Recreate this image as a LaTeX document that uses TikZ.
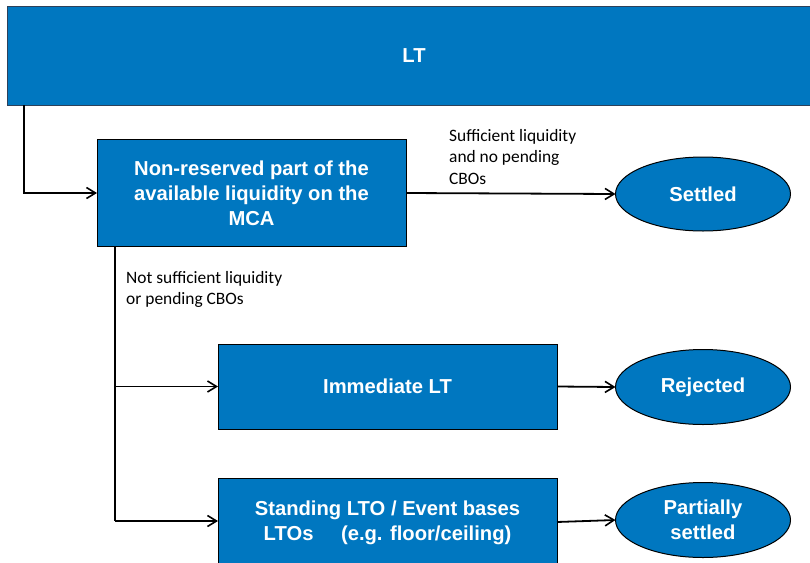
\documentclass[tikz,border=0pt]{standalone}
\usepackage{fontspec}
\setmainfont{Liberation Sans}
\newfontfamily\labelfont{Carlito}
\usetikzlibrary{arrows.meta,shapes.geometric}
\definecolor{boxblue}{RGB}{0,119,192}
\definecolor{edgeblue}{RGB}{45,65,90}
\begin{document}
\begin{tikzpicture}[x=1pt,y=-1pt,
  blockbox/.style={draw=black, line width=1pt, fill=boxblue, text=white,
    font=\fontsize{20.2}{25}\selectfont\bfseries, align=center, inner sep=0pt, outer sep=0pt},
  endstate/.style={ellipse, draw=black, line width=1pt, fill=boxblue, text=white,
    font=\fontsize{20.2}{25}\selectfont\bfseries, align=center, inner sep=0pt, outer sep=0pt,
    minimum width=175pt, minimum height=74pt},
  conn/.style={draw=black, line width=1.8pt, -{Straight Barb[length=9pt,width=11pt,line width=1.6pt]}},
  plainline/.style={draw=black, line width=1.8pt},
  edgelabel/.style={font=\labelfont\fontsize{17.4}{21.5}\selectfont, align=left, inner sep=0pt, anchor=north west}
]
\useasboundingbox (0,0) rectangle (810,562);
\clip (0,0) rectangle (810,562);

\node[blockbox, draw=edgeblue, minimum width=814pt, minimum height=99pt] (top) at (414,55.5) {LT};

\node[blockbox, minimum width=309pt, minimum height=107pt] (nonres) at (251.5,193)
  {Non-reserved part of the\\available liquidity on the\\MCA};

\node[endstate] (settled) at (703,194) {Settled};

\node[blockbox, minimum width=339pt, minimum height=85pt] (immediate) at (387.5,386.5) {Immediate LT};
\node[endstate, minimum height=75pt] (rejected) at (703,387) {Rejected};

\node[blockbox, minimum width=339pt, minimum height=90pt] (standing) at (387.5,523)
  {Standing LTO / Event bases\\LTOs\hspace{22pt} (e.g. floor/ceiling)};
\node[endstate, minimum height=75pt] (partial) at (703,520) {Partially\\settled};

\draw[conn] ([xshift=17pt]top.south west) |- (nonres.west);
\draw[conn] (nonres.east) -- (settled.west);

\coordinate (split) at ([xshift=18pt]nonres.south west);
\coordinate (branch1) at (split |- immediate.west);
\coordinate (branch2) at ([yshift=2pt]split |- standing.west);
\draw[plainline] (split) -- (branch2);
\draw[conn] (branch1) -- (immediate.west);
\draw[conn] (branch2) -- ([yshift=2pt]standing.west);

\draw[conn] (immediate.east) -- (rejected.west);
\draw[conn] ([yshift=1pt]standing.east) -- (partial.west);

\node[edgelabel] (lab1) at (449,129) {Sufficient liquidity\\and no pending\\CBOs};
\node[edgelabel] (lab2) at (126,271) {Not sufficient liquidity\\or pending CBOs};
\end{tikzpicture}
\end{document}
